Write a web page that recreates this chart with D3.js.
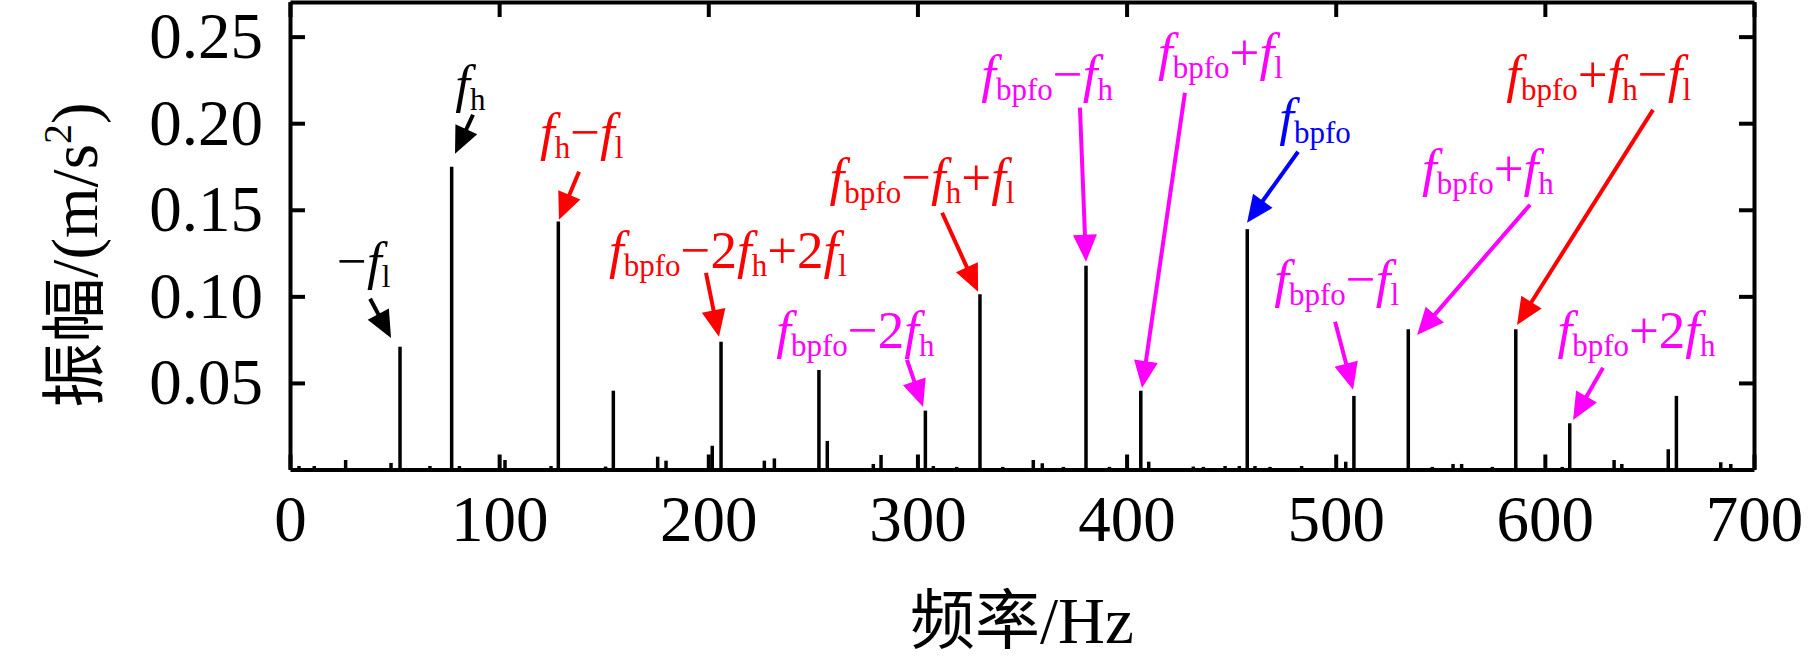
<!DOCTYPE html>
<html>
<head>
<meta charset="utf-8">
<script src="https://cdn.jsdelivr.net/npm/d3@7"></script>
<style>
  body { margin: 0; background: #fff; }
</style>
</head>
<body>
<svg id="chart"></svg>
<script>
// spectrum peaks (Hz, m/s^2)
var peakFreq = [4.3, 11.6, 26.6, 48.3, 52.6, 66.9, 77.3, 81.0, 102.8, 124.8,
  128.3, 150.9, 154.6, 175.8, 179.8, 201.9, 206.1, 226.8, 231.6, 252.9,
  256.9, 278.9, 282.6, 303.8, 307.6, 318.8, 329.9, 340.8, 355.4, 359.7,
  369.8, 380.6, 391.8, 406.8, 410.6, 431.9, 436.7, 447.1, 453.9, 457.7,
  461.4, 468.6, 483.7, 504.8, 508.7, 534.7, 546.2, 556.1, 560.2, 574.9,
  586.1, 608.3, 611.9, 633.1, 636.8, 659.0, 662.9, 684.1, 688.9];
var peakAmp = [0.002, 0.002, 0.0055, 0.0038, 0.0709, 0.002, 0.1749, 0.002, 0.0055, 0.002,
  0.1432, 0.0017, 0.0455, 0.0074, 0.0051, 0.0137, 0.0738, 0.0051, 0.0064, 0.0575,
  0.0165, 0.0032, 0.0084, 0.034, 0.002, 0.0015, 0.1012, 0.0015, 0.0055, 0.0036,
  0.0015, 0.1177, 0.0015, 0.0455, 0.0045, 0.0017, 0.0015, 0.002, 0.002, 0.1388,
  0.002, 0.0015, 0.002, 0.0045, 0.0425, 0.081, 0.0015, 0.0032, 0.0032, 0.0015,
  0.081, 0.0015, 0.0267, 0.0055, 0.0032, 0.0117, 0.0425, 0.0042, 0.0032];

var xTicks = [0, 100, 200, 300, 400, 500, 600, 700];
var yTicks = [0.05, 0.10, 0.15, 0.20, 0.25];
var xTitle = "频率/Hz";
var yTitle = "振幅/(m/s²)";

// annotations: text, colour, text origin [Hz, amp], arrow start, arrow tip
var noteText = ["−f_{l}", "f_{h}", "f_{h}−f_{l}", "f_{bpfo}−2f_{h}+2f_{l}", "f_{bpfo}−2f_{h}",
  "f_{bpfo}−f_{h}+f_{l}", "f_{bpfo}−f_{h}", "f_{bpfo}+f_{l}", "f_{bpfo}", "f_{bpfo}+f_{h}−f_{l}",
  "f_{bpfo}+f_{h}", "f_{bpfo}−f_{l}", "f_{bpfo}+2f_{h}"];
var noteColor = ["#000000", "#000000", "#ff0000", "#ff0000", "#ff00ff",
  "#ff0000", "#ff00ff", "#ff00ff", "#0000ff", "#ff0000",
  "#ff00ff", "#ff00ff", "#ff00ff"];
var notePos = [[22.5, 0.1101], [79, 0.2124], [119.5, 0.1847], [152.5, 0.1165], [232.5, 0.0702],
  [258, 0.1587], [330.5, 0.2182], [415, 0.2309], [473, 0.1933], [581.5, 0.2182],
  [541.3, 0.1639], [470.6, 0.0997], [606, 0.0702]];
var arrowFrom = [[38.3, 0.0986], [87.5, 0.2049], [138.2, 0.172], [198.9, 0.1136], [295, 0.0633],
  [311.8, 0.1483], [377.7, 0.209], [427.9, 0.2176], [482, 0.1835], [651.7, 0.2077],
  [592.9, 0.1529], [499.7, 0.0853], [627.8, 0.0587]];
var arrowTo = [[48.3, 0.076], [78.9, 0.1824], [128.6, 0.1442], [205.1, 0.0766], [302.7, 0.0361],
  [329, 0.1026], [380.6, 0.12], [407.4, 0.0471], [457.6, 0.1425], [586.7, 0.0835],
  [538.9, 0.0777], [508.3, 0.046], [613.5, 0.0286]];

var W = 1819, H = 664;
var padL = 290, padR = 1754, padT = 2, padB = 469.5;
var serif = "'Liberation Serif', 'Times New Roman', serif";
var cjk = "'Liberation Serif', 'Noto Sans CJK SC', serif";

var svg = d3.select("#chart").attr("width", W).attr("height", H);
svg.append("rect").attr("width", W).attr("height", H).attr("fill", "#fff");

var x = d3.scaleLinear().domain([0, 700]).range([padL, padR]);
var y = d3.scaleLinear().domain([0, 0.27]).range([padB, padT]);

// peaks
svg.append("g").selectAll("line")
  .data(peakFreq)
  .enter()
  .append("line")
  .attr("x1", function (d) { return x(d); })
  .attr("x2", function (d) { return x(d); })
  .attr("y1", y(0))
  .attr("y2", function (d, i) { return y(peakAmp[i]); })
  .attr("stroke", "#000")
  .attr("stroke-width", 3.5);

// axes, ticks pointing in
function styleAxis(g) {
  g.select(".domain").attr("stroke", "#000").attr("stroke-width", 4);
  g.selectAll(".tick line").attr("stroke", "#000").attr("stroke-width", 4);
  g.selectAll(".tick text").attr("fill", "#000")
    .style("font-family", serif).style("font-size", "65px");
}

svg.append("g")
  .attr("transform", "translate(0," + padB + ")")
  .call(d3.axisBottom(x).tickValues(xTicks).tickSize(-15).tickPadding(25).tickSizeOuter(0))
  .call(styleAxis);
svg.append("g")
  .attr("transform", "translate(0," + padT + ")")
  .call(d3.axisTop(x).tickValues(xTicks).tickSize(-15).tickSizeOuter(0).tickFormat(""))
  .call(styleAxis);
svg.append("g")
  .attr("transform", "translate(" + padL + ",0)")
  .call(d3.axisLeft(y).tickValues(yTicks).tickSize(-15).tickPadding(27).tickSizeOuter(0)
    .tickFormat(d3.format(".2f")))
  .call(styleAxis);
svg.append("g")
  .attr("transform", "translate(" + padR + ",0)")
  .call(d3.axisRight(y).tickValues(yTicks).tickSize(-15).tickSizeOuter(0).tickFormat(""))
  .call(styleAxis);

// axis titles
svg.append("text")
  .attr("x", (padL + padR) / 2)
  .attr("y", 643)
  .attr("text-anchor", "middle")
  .style("font-family", cjk)
  .style("font-size", "65px")
  .text(xTitle);

var yt = svg.append("text")
  .attr("transform", "translate(97,255) rotate(-90)")
  .attr("text-anchor", "middle")
  .style("font-family", cjk)
  .style("font-size", "65px");
yt.append("tspan").text(yTitle.replace("²)", ""));
yt.append("tspan").attr("dy", -26).style("font-size", "40px").text("2");
yt.append("tspan").attr("dy", 26).text(")");

// annotation text: f italic, _{..} subscript
function writeNote(t, s) {
  var shift = 0;
  var i = 0;
  while (i < s.length) {
    var c = s[i];
    if (c === "_" && s[i + 1] === "{") {
      var end = s.indexOf("}", i);
      t.append("tspan").attr("dy", 8 - shift).style("font-size", "31px")
        .style("font-style", "normal").text(s.slice(i + 2, end));
      shift = 8;
      i = end + 1;
      continue;
    }
    t.append("tspan").attr("dy", -shift)
      .style("font-style", c === "f" ? "italic" : "normal")
      .text(c);
    shift = 0;
    i++;
  }
}

var notes = svg.append("g");
noteText.forEach(function (s, i) {
  var t = notes.append("text")
    .attr("x", x(notePos[i][0]))
    .attr("y", y(notePos[i][1]))
    .attr("fill", noteColor[i])
    .style("font-family", serif)
    .style("font-size", "53px");
  writeNote(t, s);

  var x0 = x(arrowFrom[i][0]), y0 = y(arrowFrom[i][1]);
  var x1 = x(arrowTo[i][0]), y1 = y(arrowTo[i][1]);
  var dx = x1 - x0, dy = y1 - y0;
  var len = Math.sqrt(dx * dx + dy * dy);
  var ux = dx / len, uy = dy / len;
  var hl = 27, hw = 12;
  var bx = x1 - ux * hl, by = y1 - uy * hl;
  notes.append("line")
    .attr("x1", x0).attr("y1", y0)
    .attr("x2", bx + ux * 2).attr("y2", by + uy * 2)
    .attr("stroke", noteColor[i])
    .attr("stroke-width", 4);
  notes.append("polygon")
    .attr("points", [[x1, y1], [bx - uy * hw, by + ux * hw], [bx + uy * hw, by - ux * hw]].join(" "))
    .attr("fill", noteColor[i]);
});
</script>
</body>
</html>
